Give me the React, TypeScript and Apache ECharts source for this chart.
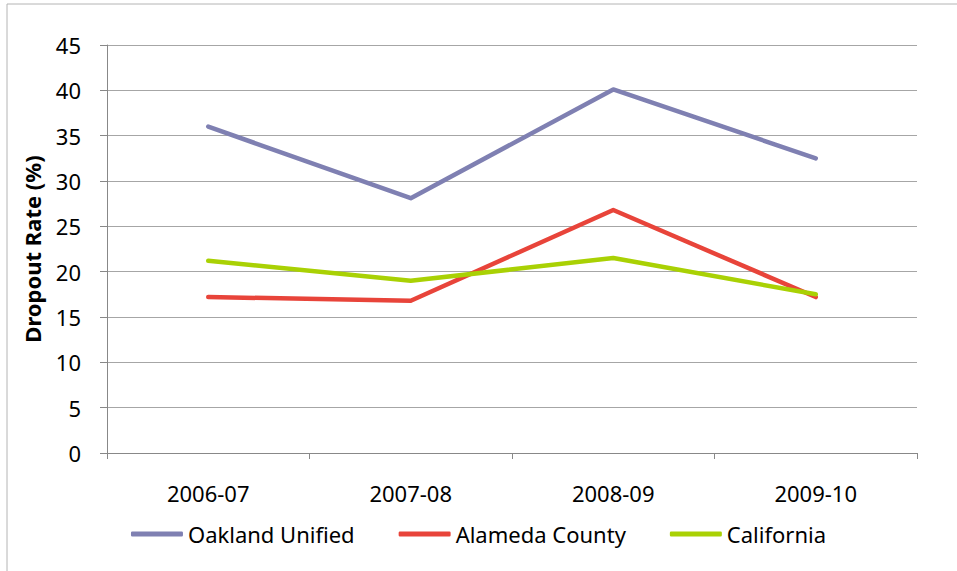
import React, { useEffect, useRef } from "react";
import * as echarts from "echarts";

const years = ["2006-07", "2007-08", "2008-09", "2009-10"];
const oaklandUnified = [36.0, 28.1, 40.1, 32.5];
const alamedaCounty = [17.2, 16.8, 26.8, 17.2];
const california = [21.2, 19.0, 21.5, 17.5];
const yTicks = { min: 0, max: 45, interval: 5 };

const FONT = "'Noto Sans', 'Open Sans', sans-serif";

export default function App() {
  const ref = useRef<HTMLDivElement>(null);

  useEffect(() => {
    if (!ref.current) return;
    const chart = echarts.init(ref.current, undefined, { renderer: "svg" });

    const lineSeries = (name: string, data: number[], color: string) => ({
      name,
      type: "line" as const,
      data,
      symbol: "none",
      lineStyle: { color, width: 4.5, cap: "round" as const, join: "round" as const },
      itemStyle: { color },
    });

    chart.setOption({
      animation: false,
      backgroundColor: "#ffffff",
      textStyle: { fontFamily: FONT },
      graphic: [
        {
          type: "rect",
          shape: { x: 7, y: 4, width: 1000, height: 620 },
          style: { fill: "none", stroke: "#b4b4b4", lineWidth: 1 },
          silent: true,
        },
      ],
      grid: { left: 107, right: 40, top: 45, bottom: 118, containLabel: false },
      legend: {
        bottom: 21,
        left: "center",
        icon: "roundRect",
        itemWidth: 52,
        itemHeight: 5,
        itemGap: 44,
        textStyle: { fontFamily: FONT, fontSize: 22, color: "#000" },
        data: ["Oakland Unified", "Alameda County", "California"],
      },
      xAxis: {
        type: "category",
        data: years,
        boundaryGap: true,
        axisLine: { lineStyle: { color: "#888888", width: 1 } },
        axisTick: { show: true, length: 6, alignWithLabel: false, lineStyle: { color: "#888888" } },
        axisLabel: { color: "#000", fontSize: 22, margin: 29, fontFamily: FONT },
        splitLine: { show: false },
      },
      yAxis: {
        type: "value",
        min: yTicks.min,
        max: yTicks.max,
        interval: yTicks.interval,
        name: "Dropout Rate (%)",
        nameLocation: "middle",
        nameGap: 64,
        nameRotate: 90,
        nameTextStyle: { fontSize: 22, fontWeight: "bold", color: "#000", fontFamily: FONT },
        axisLine: { show: true, lineStyle: { color: "#888888", width: 1 } },
        axisTick: { show: true, length: 7, lineStyle: { color: "#888888" } },
        axisLabel: { color: "#000", fontSize: 22, margin: 26, fontFamily: FONT },
        splitLine: { show: true, lineStyle: { color: "#a6a6a6", width: 1 } },
      },
      series: [
        lineSeries("Oakland Unified", oaklandUnified, "#7f80b2"),
        lineSeries("Alameda County", alamedaCounty, "#e8443a"),
        lineSeries("California", california, "#a9d104"),
      ],
    });

    return () => chart.dispose();
  }, []);

  return (
    <div
      ref={ref}
      style={{ position: "fixed", left: 0, top: 0, width: 957, height: 571 }}
    />
  );
}
